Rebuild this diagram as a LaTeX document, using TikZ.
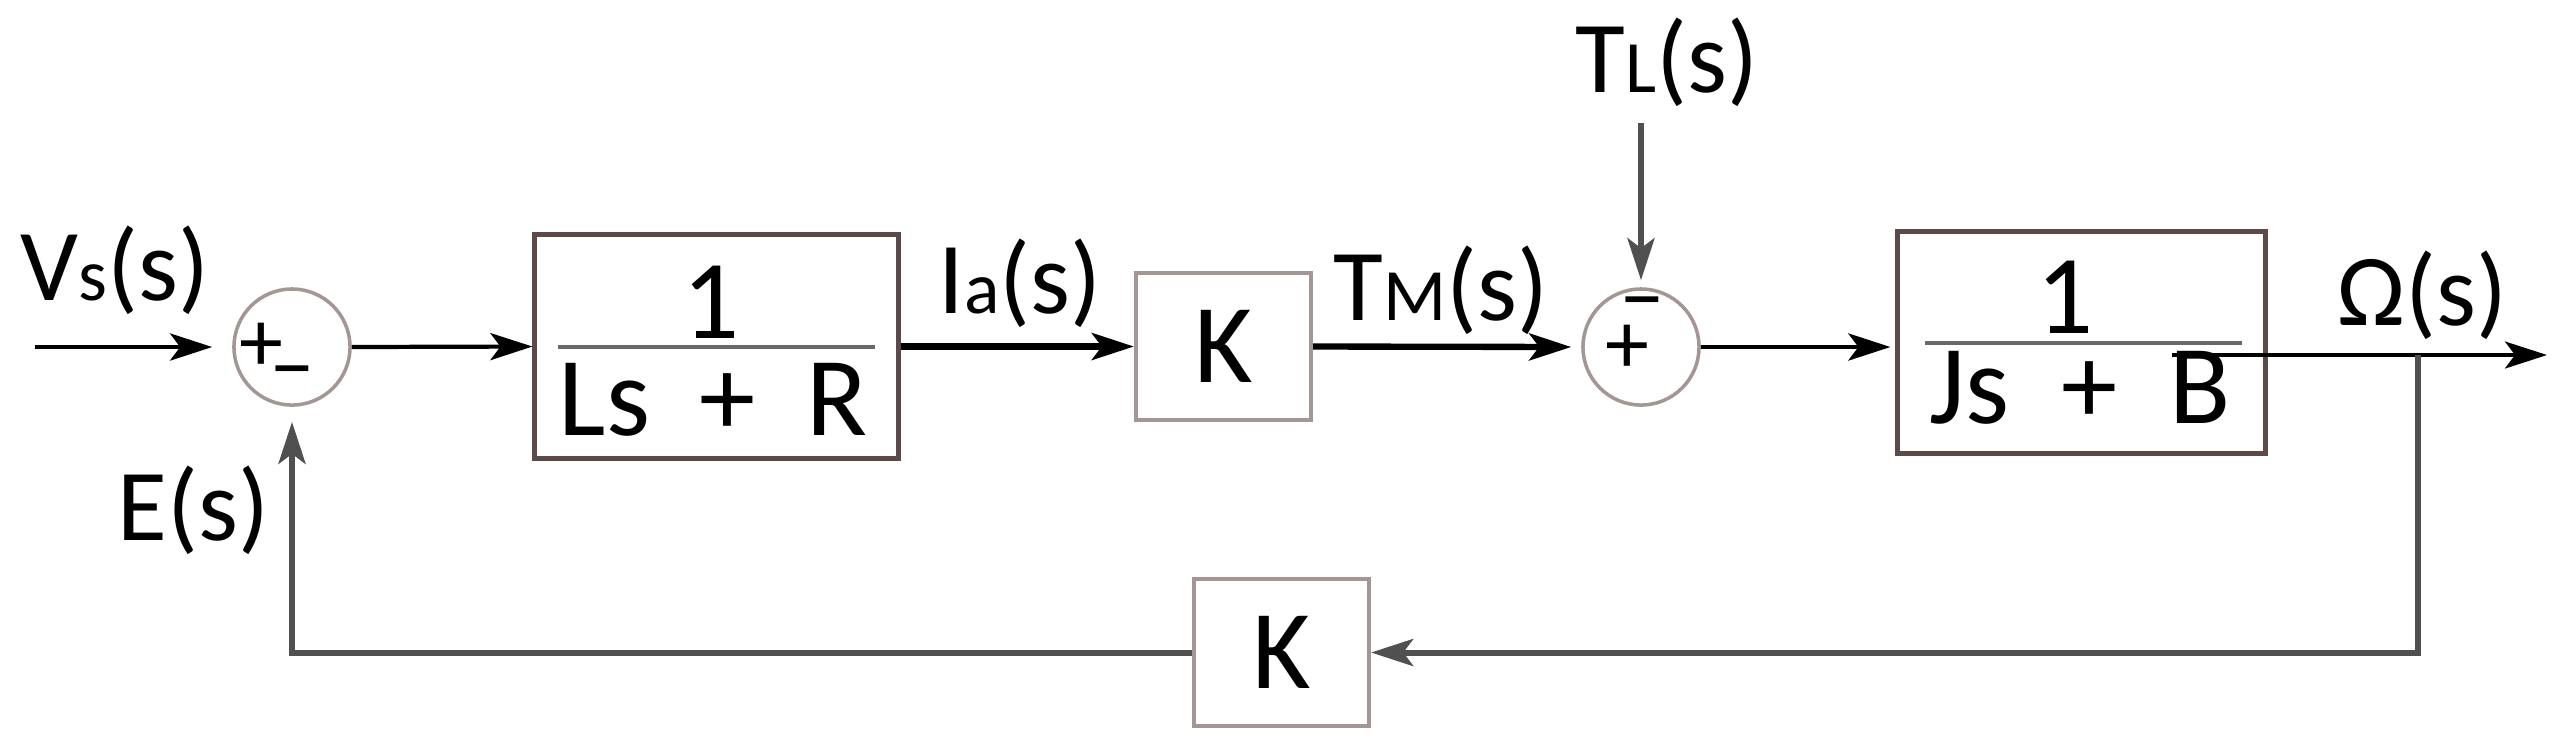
\documentclass[tikz,border=0pt]{standalone}
\usepackage{fontspec}
\setmainfont{Carlito}
\usetikzlibrary{arrows.meta,calc}
\definecolor{boxdark}{RGB}{92,74,74}
\definecolor{boxlight}{RGB}{165,150,150}
\definecolor{fbgray}{RGB}{80,80,80}
\definecolor{bargray}{RGB}{105,105,105}
\newcommand{\smallsub}[1]{{\fontsize{21}{21}\selectfont #1}}
\begin{document}
\begin{tikzpicture}[x=0.01cm,y=-0.01cm,
  tip/.style={-{Stealth[length=0.42cm,width=0.27cm,inset=0.1cm]}},
  bigbox/.style={draw=boxdark,line width=1.4pt,minimum width=3.63cm,minimum height=2.23cm,inner sep=0pt},
  kbox/.style={draw=boxlight,line width=1.2pt,minimum width=1.75cm,minimum height=1.47cm,inner sep=0pt,font=\fontsize{32}{32}\selectfont},
  sumnode/.style={circle,draw=boxlight,line width=1pt,minimum size=1.16cm,inner sep=0pt},
  sgn/.style={inner sep=0pt,font=\fontsize{25}{25}\selectfont},
  frac/.style={inner sep=0pt,anchor=base,font=\fontsize{32}{32}\selectfont},
  lbl/.style={inner sep=0pt,anchor=base west,font=\fontsize{29}{29}\selectfont},
  bar/.style={draw=bargray,line width=1.4pt},
  mainln/.style={draw=black,line width=1.2pt,tip},
  thickln/.style={draw=black,line width=1.8pt,tip},
  fbline/.style={draw=fbgray,line width=1.7pt,tip},
  outln/.style={draw=black,line width=1pt,tip}]
\useasboundingbox (0,0) rectangle (2571,747);

% blocks
\node[bigbox,minimum width=3.63cm,minimum height=2.23cm] (G1) at (716.5,346.5) {};
\node[bigbox,minimum width=3.67cm,minimum height=2.21cm] (G2) at (2081.5,342.5) {};
\node[kbox] (K1) at (1223.5,346.5) {K};
\node[kbox] (K2) at (1281.5,652.5) {K};

% summing junctions
\node[sumnode] (S1) at (292,347) {};
\node[sumnode] (S2) at (1641,347) {};
\node[sgn] (S1p) at (261,347) {+};
\node[sgn] (S1m) at (292,381) {−};
\node[sgn] (S2m) at (1642,312) {−};
\node[sgn] (S2p) at (1627,349) {+};

% fractions
\node[frac] (N1) at (711,338) {1};
\node[frac] (D1) at (713,435) {Ls\hspace{0.5cm}+\hspace{0.5cm}R};
\draw[bar] (558,347) -- (875,347);
\node[frac] (N2) at (2065,333) {1};
\node[frac] (D2) at (2080,423) {Js\hspace{0.52cm}+\hspace{0.52cm}B};
\draw[bar] (1925,343) -- (2242,343);

% labels
\node[lbl] (Lv) at (20,300) {V\smallsub{s}(s)};
\node[lbl] (Li) at (938,313) {I\smallsub{a}(s)};
\node[lbl] (Lm) at (1333,320) {T\smallsub{M}(s)};
\node[lbl] (Ll) at (1575,92) {T\smallsub{L}(s)};
\node[lbl] (Lo) at (2337,325) {Ω(s)};
\node[lbl] (Le) at (117,540) {E(s)};

% coordinates
\coordinate (vin) at (35,347);
\coordinate (tl) at (1641,123);
\coordinate (o1) at (2172,355);
\coordinate (o2) at (2547,355);
\coordinate (br) at (2418,355);

% connectors
\draw[mainln,line width=1.4pt,shorten >=0.2cm] (vin) -- (S1.west);
\draw[mainln] (S1.east) -- (G1.west);
\draw[thickln] (G1.east) -- (K1.west);
\draw[thickln,shorten >=0.1cm] (K1.east) -- (S2.west);
\draw[mainln,line width=1.4pt,shorten >=0.05cm] (S2.east) -- (S2.east -| G2.west);
\draw[fbline,shorten >=0.07cm] (tl) -- (S2.north);
\draw[outln] (o1) -- (o2);
\draw[fbline] (br) |- (K2.east);
\draw[fbline,shorten >=0.15cm] (K2.west) -| (S1.south);
\end{tikzpicture}
\end{document}
